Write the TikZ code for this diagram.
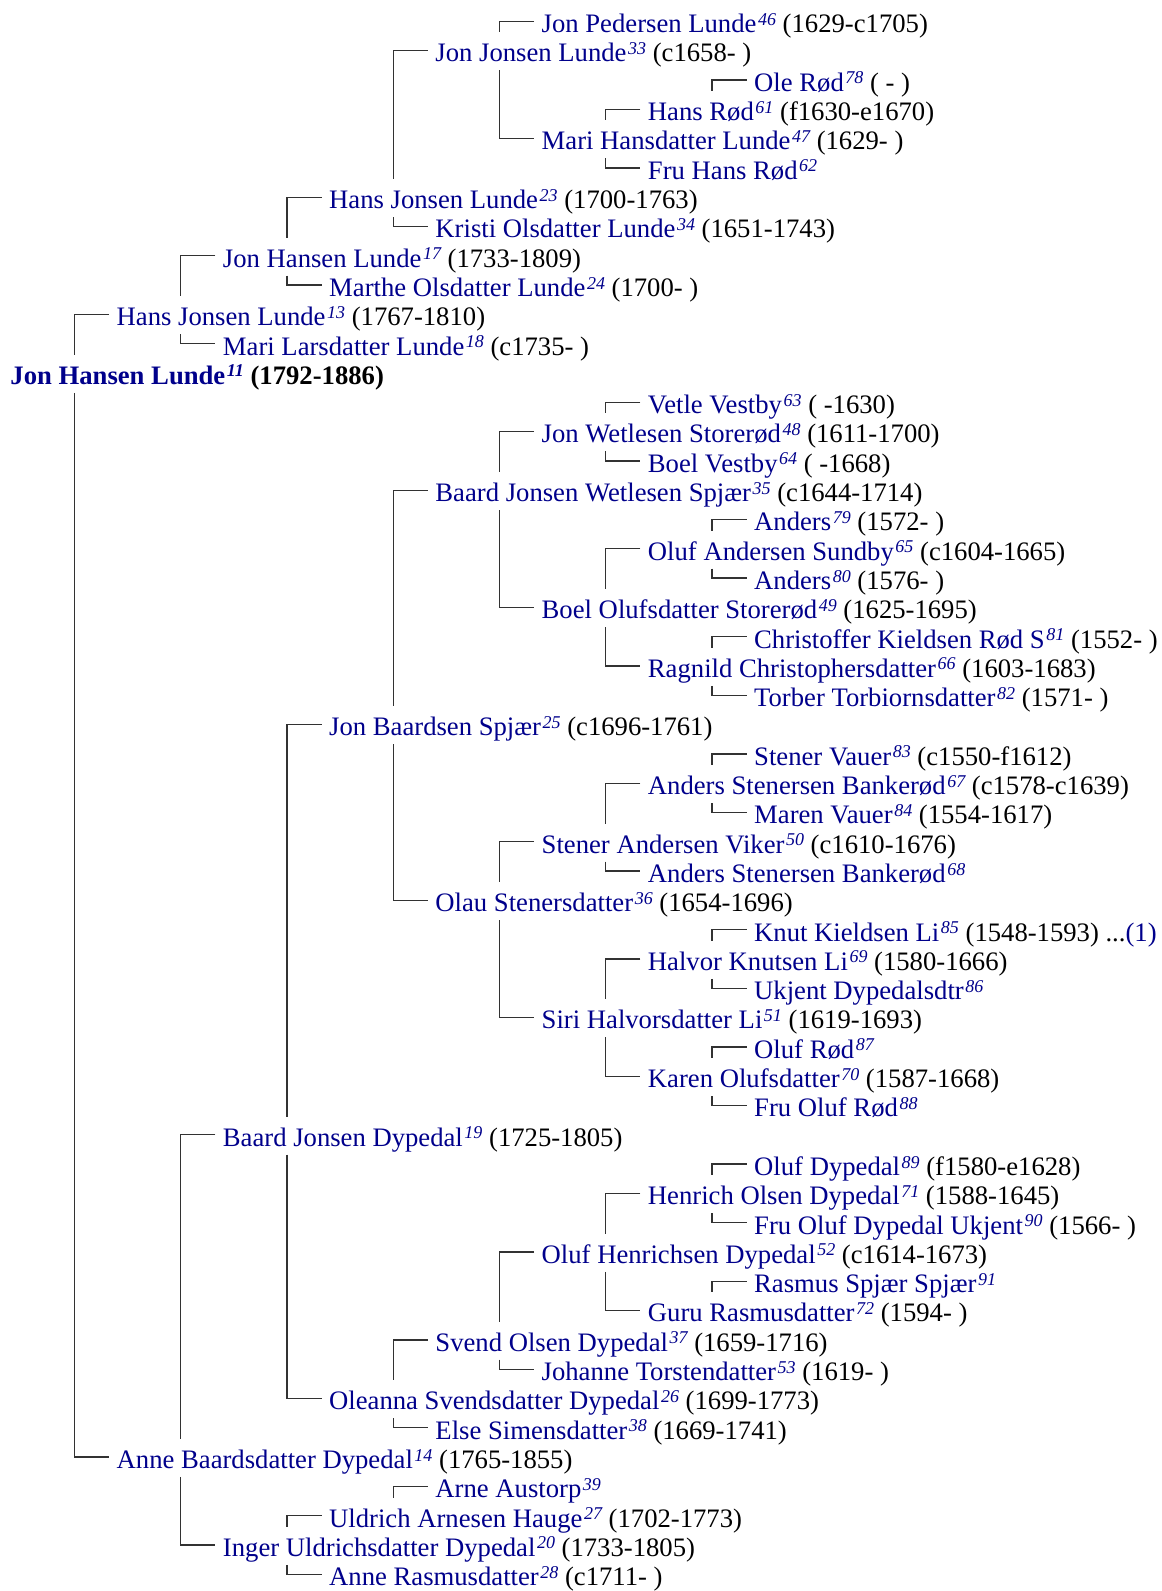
\documentclass[tikz,border=0pt]{standalone}
\usepackage{fontspec}
\setmainfont{Liberation Serif}
\usetikzlibrary{calc}
\definecolor{nblue}{RGB}{0,0,139}
\definecolor{lgray}{RGB}{50,50,50}
\newcommand\nm[2]{\textcolor{nblue}{#1\kern1.2pt\raisebox{5.5pt}{\fontsize{13.5}{13.5}\selectfont\itshape #2}}}
\tikzset{
  pn/.style={anchor=base west, inner sep=0pt, outer sep=0pt, font=\fontsize{20}{24}\selectfont},
  ln/.style={draw=lgray, line width=1pt},
}
\newcommand\fa[2]{\draw[ln] ($(#2.base west)+(-7.7,-11.3)$) -| ($(#1.base west)+(64,-29.5)$);}
\newcommand\mo[2]{\draw[ln] ($(#1.base west)+(64,8.5)$) |- ($(#2.base west)+(-7.7,-11.3)$);}
\begin{document}
\begin{tikzpicture}[x=0.75pt,y=-0.75pt]
\useasboundingbox (0,0) rectangle (1161,1591);
\node[pn] (p1) at (10.45+106.25*5, 3.4+29.3*1) {\nm{Jon Pedersen Lunde}{46} (1629-c1705)};
\node[pn] (p2) at (10.45+106.25*4, 3.4+29.3*2) {\nm{Jon Jonsen Lunde}{33} (c1658- )};
\node[pn] (p3) at (10.45+106.25*7, 3.4+29.3*3) {\nm{Ole Rød}{78} ( - )};
\node[pn] (p4) at (10.45+106.25*6, 3.4+29.3*4) {\nm{Hans Rød}{61} (f1630-e1670)};
\node[pn] (p5) at (10.45+106.25*5, 3.4+29.3*5) {\nm{Mari Hansdatter Lunde}{47} (1629- )};
\node[pn] (p6) at (10.45+106.25*6, 3.4+29.3*6) {\nm{Fru Hans Rød}{62}};
\node[pn] (p7) at (10.45+106.25*3, 3.4+29.3*7) {\nm{Hans Jonsen Lunde}{23} (1700-1763)};
\node[pn] (p8) at (10.45+106.25*4, 3.4+29.3*8) {\nm{Kristi Olsdatter Lunde}{34} (1651-1743)};
\node[pn] (p9) at (10.45+106.25*2, 3.4+29.3*9) {\nm{Jon Hansen Lunde}{17} (1733-1809)};
\node[pn] (p10) at (10.45+106.25*3, 3.4+29.3*10) {\nm{Marthe Olsdatter Lunde}{24} (1700- )};
\node[pn] (p11) at (10.45+106.25*1, 3.4+29.3*11) {\nm{Hans Jonsen Lunde}{13} (1767-1810)};
\node[pn] (p12) at (10.45+106.25*2, 3.4+29.3*12) {\nm{Mari Larsdatter Lunde}{18} (c1735- )};
\node[pn] (p13) at (10.45+106.25*0, 3.4+29.3*13) {\bfseries\nm{Jon Hansen Lunde}{11} (1792-1886)};
\node[pn] (p14) at (10.45+106.25*6, 3.4+29.3*14) {\nm{Vetle Vestby}{63} ( -1630)};
\node[pn] (p15) at (10.45+106.25*5, 3.4+29.3*15) {\nm{Jon Wetlesen Storerød}{48} (1611-1700)};
\node[pn] (p16) at (10.45+106.25*6, 3.4+29.3*16) {\nm{Boel Vestby}{64} ( -1668)};
\node[pn] (p17) at (10.45+106.25*4, 3.4+29.3*17) {\nm{Baard Jonsen Wetlesen Spjær}{35} (c1644-1714)};
\node[pn] (p18) at (10.45+106.25*7, 3.4+29.3*18) {\nm{Anders}{79} (1572- )};
\node[pn] (p19) at (10.45+106.25*6, 3.4+29.3*19) {\nm{Oluf Andersen Sundby}{65} (c1604-1665)};
\node[pn] (p20) at (10.45+106.25*7, 3.4+29.3*20) {\nm{Anders}{80} (1576- )};
\node[pn] (p21) at (10.45+106.25*5, 3.4+29.3*21) {\nm{Boel Olufsdatter Storerød}{49} (1625-1695)};
\node[pn] (p22) at (10.45+106.25*7, 3.4+29.3*22) {\nm{Christoffer Kieldsen Rød S}{81} (1552- )};
\node[pn] (p23) at (10.45+106.25*6, 3.4+29.3*23) {\nm{Ragnild Christophersdatter}{66} (1603-1683)};
\node[pn] (p24) at (10.45+106.25*7, 3.4+29.3*24) {\nm{Torber Torbiornsdatter}{82} (1571- )};
\node[pn] (p25) at (10.45+106.25*3, 3.4+29.3*25) {\nm{Jon Baardsen Spjær}{25} (c1696-1761)};
\node[pn] (p26) at (10.45+106.25*7, 3.4+29.3*26) {\nm{Stener Vauer}{83} (c1550-f1612)};
\node[pn] (p27) at (10.45+106.25*6, 3.4+29.3*27) {\nm{Anders Stenersen Bankerød}{67} (c1578-c1639)};
\node[pn] (p28) at (10.45+106.25*7, 3.4+29.3*28) {\nm{Maren Vauer}{84} (1554-1617)};
\node[pn] (p29) at (10.45+106.25*5, 3.4+29.3*29) {\nm{Stener Andersen Viker}{50} (c1610-1676)};
\node[pn] (p30) at (10.45+106.25*6, 3.4+29.3*30) {\nm{Anders Stenersen Bankerød}{68}};
\node[pn] (p31) at (10.45+106.25*4, 3.4+29.3*31) {\nm{Olau Stenersdatter}{36} (1654-1696)};
\node[pn] (p32) at (10.45+106.25*7, 3.4+29.3*32) {\nm{Knut Kieldsen Li}{85} (1548-1593) ...\textcolor{nblue}{(1)}};
\node[pn] (p33) at (10.45+106.25*6, 3.4+29.3*33) {\nm{Halvor Knutsen Li}{69} (1580-1666)};
\node[pn] (p34) at (10.45+106.25*7, 3.4+29.3*34) {\nm{Ukjent Dypedalsdtr}{86}};
\node[pn] (p35) at (10.45+106.25*5, 3.4+29.3*35) {\nm{Siri Halvorsdatter Li}{51} (1619-1693)};
\node[pn] (p36) at (10.45+106.25*7, 3.4+29.3*36) {\nm{Oluf Rød}{87}};
\node[pn] (p37) at (10.45+106.25*6, 3.4+29.3*37) {\nm{Karen Olufsdatter}{70} (1587-1668)};
\node[pn] (p38) at (10.45+106.25*7, 3.4+29.3*38) {\nm{Fru Oluf Rød}{88}};
\node[pn] (p39) at (10.45+106.25*2, 3.4+29.3*39) {\nm{Baard Jonsen Dypedal}{19} (1725-1805)};
\node[pn] (p40) at (10.45+106.25*7, 3.4+29.3*40) {\nm{Oluf Dypedal}{89} (f1580-e1628)};
\node[pn] (p41) at (10.45+106.25*6, 3.4+29.3*41) {\nm{Henrich Olsen Dypedal}{71} (1588-1645)};
\node[pn] (p42) at (10.45+106.25*7, 3.4+29.3*42) {\nm{Fru Oluf Dypedal Ukjent}{90} (1566- )};
\node[pn] (p43) at (10.45+106.25*5, 3.4+29.3*43) {\nm{Oluf Henrichsen Dypedal}{52} (c1614-1673)};
\node[pn] (p44) at (10.45+106.25*7, 3.4+29.3*44) {\nm{Rasmus Spjær Spjær}{91}};
\node[pn] (p45) at (10.45+106.25*6, 3.4+29.3*45) {\nm{Guru Rasmusdatter}{72} (1594- )};
\node[pn] (p46) at (10.45+106.25*4, 3.4+29.3*46) {\nm{Svend Olsen Dypedal}{37} (1659-1716)};
\node[pn] (p47) at (10.45+106.25*5, 3.4+29.3*47) {\nm{Johanne Torstendatter}{53} (1619- )};
\node[pn] (p48) at (10.45+106.25*3, 3.4+29.3*48) {\nm{Oleanna Svendsdatter Dypedal}{26} (1699-1773)};
\node[pn] (p49) at (10.45+106.25*4, 3.4+29.3*49) {\nm{Else Simensdatter}{38} (1669-1741)};
\node[pn] (p50) at (10.45+106.25*1, 3.4+29.3*50) {\nm{Anne Baardsdatter Dypedal}{14} (1765-1855)};
\node[pn] (p51) at (10.45+106.25*4, 3.4+29.3*51) {\nm{Arne Austorp}{39}};
\node[pn] (p52) at (10.45+106.25*3, 3.4+29.3*52) {\nm{Uldrich Arnesen Hauge}{27} (1702-1773)};
\node[pn] (p53) at (10.45+106.25*2, 3.4+29.3*53) {\nm{Inger Uldrichsdatter Dypedal}{20} (1733-1805)};
\node[pn] (p54) at (10.45+106.25*3, 3.4+29.3*54) {\nm{Anne Rasmusdatter}{28} (c1711- )};
% connectors: \fa{child}{father}, \mo{child}{mother}
\fa{p13}{p11} \mo{p13}{p50}
\fa{p11}{p9}  \mo{p11}{p12}
\fa{p9}{p7}   \mo{p9}{p10}
\fa{p7}{p2}   \mo{p7}{p8}
\fa{p2}{p1}   \mo{p2}{p5}
\fa{p5}{p4}   \mo{p5}{p6}
\fa{p4}{p3}
\fa{p50}{p39} \mo{p50}{p53}
\fa{p39}{p25} \mo{p39}{p48}
\fa{p25}{p17} \mo{p25}{p31}
\fa{p17}{p15} \mo{p17}{p21}
\fa{p15}{p14} \mo{p15}{p16}
\fa{p21}{p19} \mo{p21}{p23}
\fa{p19}{p18} \mo{p19}{p20}
\fa{p23}{p22} \mo{p23}{p24}
\fa{p31}{p29} \mo{p31}{p35}
\fa{p29}{p27} \mo{p29}{p30}
\fa{p27}{p26} \mo{p27}{p28}
\fa{p35}{p33} \mo{p35}{p37}
\fa{p33}{p32} \mo{p33}{p34}
\fa{p37}{p36} \mo{p37}{p38}
\fa{p48}{p46} \mo{p48}{p49}
\fa{p46}{p43} \mo{p46}{p47}
\fa{p43}{p41} \mo{p43}{p45}
\fa{p41}{p40} \mo{p41}{p42}
\fa{p45}{p44}
\fa{p53}{p52} \mo{p53}{p54}
\fa{p52}{p51}
\end{tikzpicture}
\end{document}
